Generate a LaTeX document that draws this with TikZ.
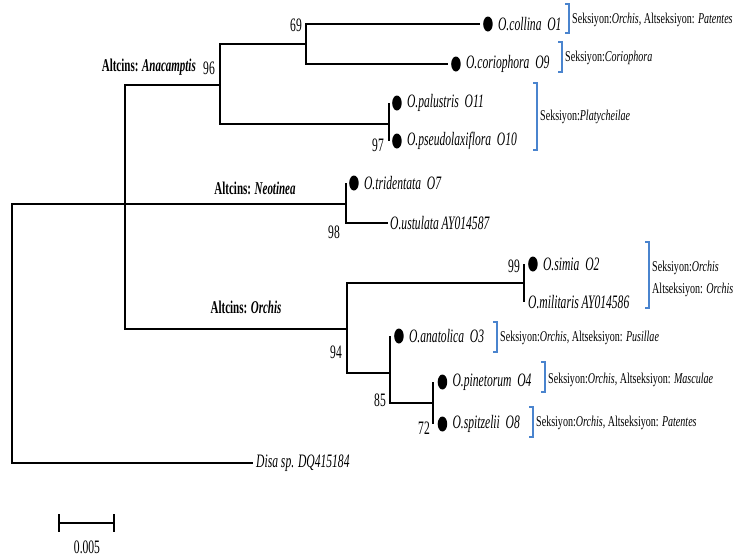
\documentclass[tikz,border=0pt]{standalone}
\usepackage{fontspec}
\setmainfont{Liberation Serif}
\usetikzlibrary{positioning,shapes.geometric}

\definecolor{brblue}{RGB}{74,132,206}
\newcommand{\cnd}[1]{\scalebox{0.61}[1]{#1}}
\newcommand{\snd}[1]{\scalebox{0.67}[1]{#1}}

\begin{document}
\begin{tikzpicture}[x=1pt,y=-1pt,
    branch/.style={line width=2.8pt},
    dot/.style={fill=black, ellipse, minimum width=9.5pt, minimum height=15pt, inner sep=0pt},
    taxon/.style={anchor=west, inner sep=0.5pt, font=\fontsize{19}{22}\selectfont\itshape},
    boot/.style={inner sep=0pt, font=\fontsize{19}{22}\selectfont},
    clade/.style={inner sep=0pt, font=\fontsize{18}{21}\selectfont\bfseries},
    sect/.style={anchor=west, inner sep=0pt, font=\fontsize{15}{22}\selectfont},
    brk/.style={draw=brblue, line width=1.3pt}]
      \useasboundingbox (0,0) rectangle (736,558);

      % inner nodes of the tree
      \coordinate (root) at (12,334);
      \coordinate (n1) at (125,204);
      \coordinate (anac) at (220,85);
      \coordinate (n69) at (306,44);
      \coordinate (pal) at (389,124);
      \coordinate (neot) at (346,204);
      \coordinate (orch) at (347,329);
      \coordinate (simi) at (524,283);
      \coordinate (n85) at (390,373);
      \coordinate (n72) at (433,403);

      % ends of the tips
      \coordinate (e1) at (480,24);
      \coordinate (e9) at (448,64);
      \coordinate (e11) at (389,103);
      \coordinate (e10) at (389,141);
      \coordinate (e7) at (346,183);
      \coordinate (eu) at (388,223);
      \coordinate (e2) at (524,264);
      \coordinate (em) at (524,302);
      \coordinate (e3) at (390,336);
      \coordinate (e4) at (433,382);
      \coordinate (e8) at (433,424);
      \coordinate (ed) at (253,463);

      \node[dot, right=3pt of e1] (d1) {};
      \node[dot, right=3pt of e9] (d9) {};
      \node[dot, right=3pt of e11] (d11) {};
      \node[dot, right=3pt of e10] (d10) {};
      \node[dot, right=3pt of e7] (d7) {};
      \node[dot, right=4pt of e2] (d2) {};
      \node[dot, right=4pt of e3] (d3) {};
      \node[dot, right=4.5pt of e4] (d4) {};
      \node[dot, right=4.5pt of e8] (d8) {};

      \node[taxon, right=4.5pt of d1] (t1) {\cnd{O.collina\ \ O1}};
      \node[taxon, right=4.5pt of d9] (t9) {\cnd{O.coriophora\ \ O9}};
      \node[taxon, right=4.5pt of d11] (t11) {\cnd{O.palustris\ \ O11}};
      \node[taxon, right=4.5pt of d10] (t10) {\cnd{O.pseudolaxiflora\ \ O10}};
      \node[taxon, right=4.5pt of d7] (t7) {\cnd{O.tridentata\ \ O7}};
      \node[taxon, right=1.5pt of eu] (tu) {\cnd{O.ustulata AY014587}};
      \node[taxon, right=4.5pt of d2] (t2) {\cnd{O.simia\ \ O2}};
      \node[taxon, right=3.5pt of em] (tm) {\cnd{O.militaris AY014586}};
      \node[taxon, right=4.5pt of d3] (t3) {\cnd{O.anatolica\ \ O3}};
      \node[taxon, right=4.5pt of d4] (t4) {\cnd{O.pinetorum\ \ O4}};
      \node[taxon, right=4.5pt of d8] (t8) {\cnd{O.spitzelii\ \ O8}};
      \node[taxon, right=2.5pt of ed] (td) {\cnd{Disa sp. DQ415184}};

      \draw[branch] (root) |- (n1);
      \draw[branch] (root) |- (ed);
      \draw[branch] (n1) |- (anac);
      \draw[branch] (n1) -- (neot);
      \draw[branch] (n1) |- (orch);
      \draw[branch] (anac) |- (n69);
      \draw[branch] (anac) |- (pal);
      \draw[branch] (n69) |- (e1);
      \draw[branch] (n69) |- (e9);
      \draw[branch] (pal) -- (e11);
      \draw[branch] (pal) -- (e10);
      \draw[branch] (neot) |- (e7);
      \draw[branch] (neot) |- (eu);
      \draw[branch] (orch) |- (simi);
      \draw[branch] (orch) |- (n85);
      \draw[branch] (simi) -- (e2);
      \draw[branch] (simi) -- (em);
      \draw[branch] (n85) |- (e3);
      \draw[branch] (n85) |- (n72);
      \draw[branch] (n72) -- (e4);
      \draw[branch] (n72) -- (e8);

      % bootstrap values
      \node[boot] (b69) at (296,25) {\cnd{69}};
      \node[boot] (b96) at (209,68) {\cnd{96}};
      \node[boot] (b97) at (378,145) {\cnd{97}};
      \node[boot] (b98) at (334,232) {\cnd{98}};
      \node[boot] (b94) at (336,352) {\cnd{94}};
      \node[boot] (b99) at (514,266) {\cnd{99}};
      \node[boot] (b85) at (380,400) {\cnd{85}};
      \node[boot] (b72) at (424,428) {\cnd{72}};

      \node[clade, anchor=east] (cana) at (196,67) {\cnd{Altcins: \textit{Anacamptis}}};
      \node[clade] (cneo) at (255,188) {\cnd{Altcins: \textit{Neotinea}}};
      \node[clade] (corc) at (246,307) {\cnd{Altcins: \textit{Orchis}}};

      % sections
      \draw[brk] (565,4) -- (569,4) -- (569,33) -- (565,33);
      \draw[brk] (558,42) -- (562,42) -- (562,72) -- (558,72);
      \draw[brk] (533,83) -- (537,83) -- (537,150) -- (533,150);
      \draw[brk] (645,242) -- (649,242) -- (649,308) -- (645,308);
      \draw[brk] (493,322) -- (497,322) -- (497,352) -- (493,352);
      \draw[brk] (541,362) -- (545,362) -- (545,392) -- (541,392);
      \draw[brk] (529,407) -- (533,407) -- (533,437) -- (529,437);

      \node[sect] (s1) at (572,20) {\snd{Seksiyon:\textit{Orchis}, Altseksiyon: \textit{Patentes}}};
      \node[sect] (s2) at (565,58) {\snd{Seksiyon:\textit{Coriophora}}};
      \node[sect] (s3) at (540,117) {\snd{Seksiyon:\textit{Platycheilae}}};
      \node[sect, align=left] (s4) at (652,279) {\snd{Seksiyon:\textit{Orchis}}\\\snd{Altseksiyon: \textit{Orchis}}};
      \node[sect] (s5) at (500,338) {\snd{Seksiyon:\textit{Orchis}, Altseksiyon: \textit{Pusillae}}};
      \node[sect] (s6) at (548,380) {\snd{Seksiyon:\textit{Orchis}, Altseksiyon: \textit{Masculae}}};
      \node[sect] (s7) at (536,423) {\snd{Seksiyon:\textit{Orchis}, Altseksiyon: \textit{Patentes}}};

      % scale bar
      \coordinate (sa) at (59,523);
      \coordinate (sb) at (114,523);
      \draw[line width=2pt] (sa) -- (sb);
      \draw[line width=1.6pt] (59,514) -- (59,532);
      \draw[line width=1.6pt] (114,514) -- (114,532);
      \node[boot] (sl) at (87,547) {\cnd{0.005}};
\end{tikzpicture}
\end{document}
